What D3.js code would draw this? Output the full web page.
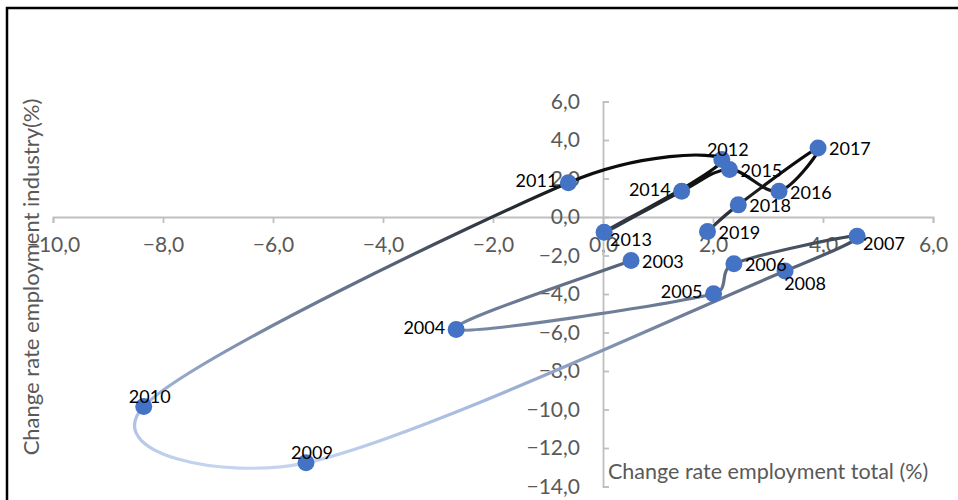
<!DOCTYPE html>
<html>
<head>
<meta charset="utf-8">
<script src="https://cdn.jsdelivr.net/npm/d3@7"></script>
<style>
  html, body { margin: 0; padding: 0; background: #fff; }
  svg { display: block; }
  text { font-family: Lato, "Open Sans", sans-serif; }
</style>
</head>
<body>
<svg id="chart" width="958" height="500"></svg>
<script>
// Yearly change rates (%): total employment (x) vs. industry employment (y)
const years = [2003, 2004, 2005, 2006, 2007, 2008, 2009, 2010, 2011,
               2012, 2013, 2014, 2015, 2016, 2017, 2018, 2019];
const totalChange = [0.51, -2.67, 2.01, 2.38, 4.62, 3.31, -5.40, -8.35, -0.63,
                     2.16, 0.02, 1.43, 2.30, 3.20, 3.91, 2.46, 1.90];
const industryChange = [-2.26, -5.84, -3.99, -2.43, -1.00, -2.81, -12.77, -9.84, 1.78,
                        2.99, -0.79, 1.34, 2.47, 1.34, 3.58, 0.63, -0.75];
const xTicks = [-10, -8, -6, -4, -2, 0, 2, 4, 6];
const yTicks = [-14, -12, -10, -8, -6, -4, -2, 0, 2, 4, 6];
const xTitle = "Change rate employment total (%)";
const yTitle = "Change rate employment industry(%)";

// where each year's label sits relative to its marker
const labelPlace = {
  2003: "right", 2004: "left", 2005: "left", 2006: "right", 2007: "rightLow",
  2008: "below", 2009: "above", 2010: "above", 2011: "left", 2012: "above",
  2013: "rightLow", 2014: "left", 2015: "right", 2016: "right", 2017: "right",
  2018: "right", 2019: "right"
};

const points = years.map((yr, i) => ({ year: yr, x: totalChange[i], y: industryChange[i] }));

const svg = d3.select("#chart");
const fmt = v => d3.format(".1f")(v).replace(".", ",");

const x = d3.scaleLinear().domain([-10, 6]).range([53, 933]);
const y = d3.scaleLinear().domain([-14, 6]).range([486.5, 101.5]);

// outer frame
svg.append("rect")
  .attr("x", 7).attr("y", 8).attr("width", 1000).attr("height", 600)
  .attr("fill", "none").attr("stroke", "#000").attr("stroke-width", 2.5);

const axisColor = "#bfbfbf";
const tickColor = "#595959";

// horizontal axis through y = 0
const xAxis = svg.append("g")
  .attr("transform", `translate(0,${y(0)})`)
  .call(d3.axisBottom(x).tickValues(xTicks).tickFormat(fmt).tickSize(6).tickSizeOuter(6).tickPadding(14));
xAxis.select(".domain").attr("stroke", axisColor).attr("stroke-width", 1.8);
xAxis.selectAll(".tick line").attr("stroke", axisColor).attr("stroke-width", 1.8);
xAxis.selectAll(".tick text").attr("fill", tickColor).attr("font-size", 21)
  .attr("font-family", "Lato, 'Open Sans', sans-serif");

// vertical axis through x = 0, ticks pointing right, labels on the left
const yAxis = svg.append("g")
  .attr("transform", `translate(${x(0)},0)`)
  .call(d3.axisLeft(y).tickValues(yTicks).tickFormat(fmt).tickSize(-6).tickSizeOuter(-6).tickPadding(23));
yAxis.select(".domain").attr("stroke", axisColor).attr("stroke-width", 1.8);
yAxis.selectAll(".tick line").attr("stroke", axisColor).attr("stroke-width", 1.8);
yAxis.selectAll(".tick text").attr("fill", tickColor).attr("font-size", 21)
  .attr("font-family", "Lato, 'Open Sans', sans-serif");

// axis titles
svg.append("text")
  .attr("x", 608).attr("y", 479)
  .attr("fill", tickColor).attr("font-size", 21.5)
  .text(xTitle);

svg.append("text")
  .attr("transform", "translate(39,277) rotate(-90)")
  .attr("text-anchor", "middle")
  .attr("fill", tickColor).attr("font-size", 22)
  .text(yTitle);

// vertical colour gradient for the connecting line
const defs = svg.append("defs");
const grad = defs.append("linearGradient")
  .attr("id", "lineGrad")
  .attr("gradientUnits", "userSpaceOnUse")
  .attr("x1", 0).attr("x2", 0).attr("y1", 140).attr("y2", 475);
[
  [0.00, "#050505"],
  [0.12, "#111111"],
  [0.25, "#343b47"],
  [0.40, "#5f6b82"],
  [0.55, "#74849f"],
  [0.78, "#a5b9df"],
  [1.00, "#c8d7f0"]
].forEach(([o, c]) => grad.append("stop").attr("offset", o).attr("stop-color", c));

// Smoothed connector: cubic Bezier per segment, control arms are 1/6 of the
// neighbour chord, capped at half of the segment length.
function smoothPath(pts) {
  const p = d3.path();
  const dist = (a, b) => Math.hypot(b[0] - a[0], b[1] - a[1]);
  const arm = (from, to, cap) => {
    let vx = (to[0] - from[0]) / 6, vy = (to[1] - from[1]) / 6;
    const len = Math.hypot(vx, vy);
    if (len > cap && len > 0) { vx *= cap / len; vy *= cap / len; }
    return [vx, vy];
  };
  p.moveTo(pts[0][0], pts[0][1]);
  for (let i = 0; i < pts.length - 1; i++) {
    const p0 = pts[i - 1] || pts[i];
    const p1 = pts[i];
    const p2 = pts[i + 1];
    const p3 = pts[i + 2] || pts[i + 1];
    const cap = dist(p1, p2) / 2;
    const a = arm(p0, p2, cap);
    const b = arm(p1, p3, cap);
    p.bezierCurveTo(p1[0] + a[0], p1[1] + a[1], p2[0] - b[0], p2[1] - b[1], p2[0], p2[1]);
  }
  return p.toString();
}

svg.append("path")
  .attr("d", smoothPath(points.map(d => [x(d.x), y(d.y)])))
  .attr("fill", "none")
  .attr("stroke", "url(#lineGrad)")
  .attr("stroke-width", 3.2)
  .attr("stroke-linejoin", "round")
  .attr("stroke-linecap", "round");

// markers
svg.append("g").selectAll("circle")
  .data(points)
  .join("circle")
  .attr("cx", d => x(d.x))
  .attr("cy", d => y(d.y))
  .attr("r", 8.5)
  .attr("fill", "#4472c4");

// year labels
const offsets = {
  right:    { dx: 11,  dy: 1,   anchor: "start" },
  rightLow: { dx: 6,   dy: 7,   anchor: "start" },
  left:     { dx: -11, dy: -2,  anchor: "end" },
  above:    { dx: 6,   dy: -10, anchor: "middle" },
  below:    { dx: 20,  dy: 13,  anchor: "middle" }
};
svg.append("g").selectAll("text")
  .data(points)
  .join("text")
  .attr("x", d => x(d.x) + offsets[labelPlace[d.year]].dx)
  .attr("y", d => y(d.y) + offsets[labelPlace[d.year]].dy)
  .attr("dy", "0.35em")
  .attr("text-anchor", d => offsets[labelPlace[d.year]].anchor)
  .attr("fill", "#000")
  .attr("font-size", 18)
  .text(d => d.year);
</script>
</body>
</html>
